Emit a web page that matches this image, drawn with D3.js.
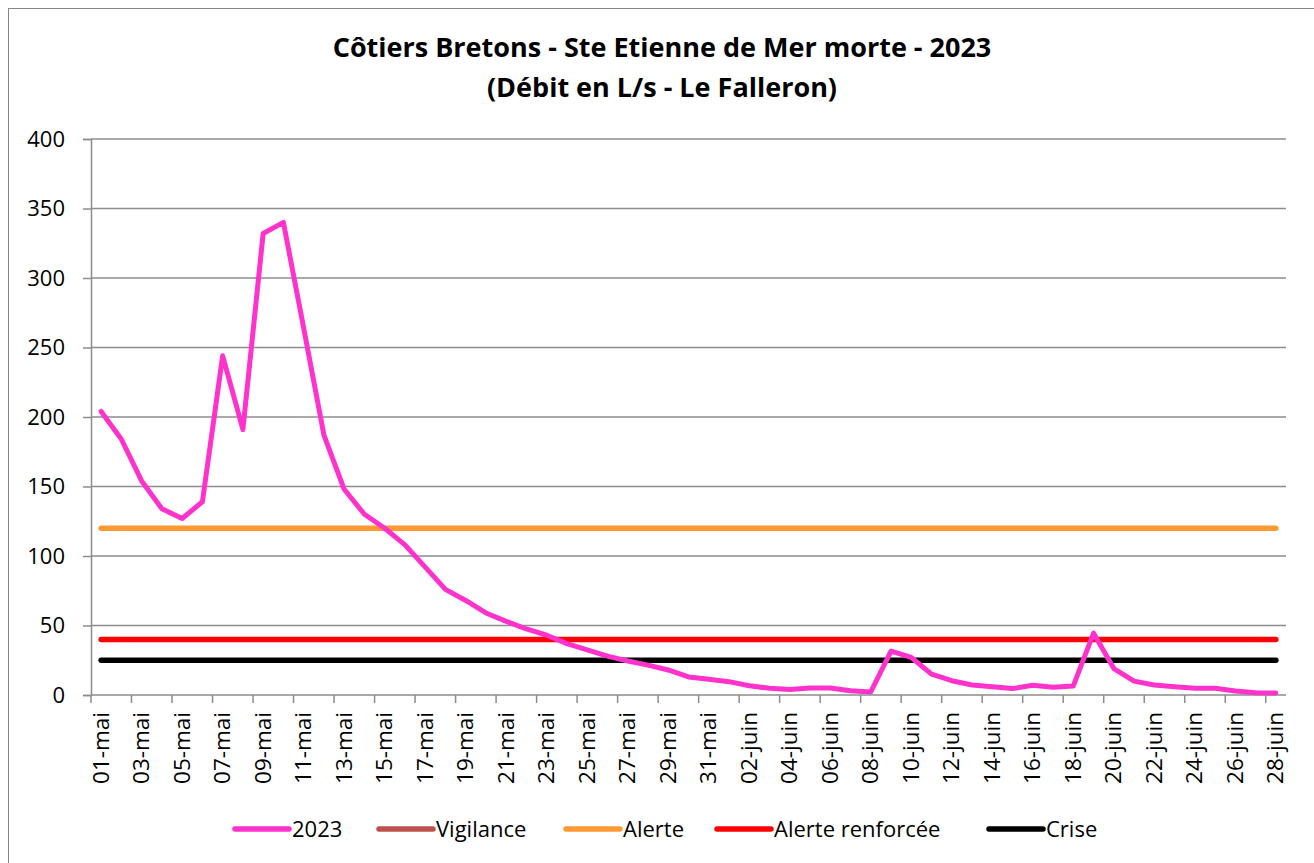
<html>
<head>
<meta charset="utf-8">
<script src="https://d3js.org/d3.v7.min.js"></script>
<style>
  body { margin: 0; background: #fff; }
  text { font-family: "Open Sans", sans-serif; }
</style>
</head>
<body>
<div id="chart"></div>
<script>
// days from 01-mai to 28-juin
var dayLabels = [];
for (var d = 1; d <= 31; d++) dayLabels.push((d < 10 ? "0" : "") + d + "-mai");
for (var d = 1; d <= 28; d++) dayLabels.push((d < 10 ? "0" : "") + d + "-juin");

var debit2023 = [204, 184, 154, 134, 127, 139, 244, 191, 332, 340,
                 264, 187, 148, 130, 120, 108, 92, 76, 68, 59,
                 53, 47.5, 43, 37, 32.5, 28, 24.5, 21.5, 18, 13,
                 11.3, 9.6, 6.7, 4.8, 4, 5, 5, 3, 2.2, 31.5,
                 27, 15, 10.3, 7.2, 6, 4.6, 7, 5.5, 6.5, 44.5,
                 19, 10, 7.2, 6, 4.8, 4.8, 2.9, 1.7, 1.4];

var seuilNames = ["Vigilance", "Alerte", "Alerte renforcée", "Crise"];
var seuilValues = [null, 120, 40, 25];
var seuilColors = ["#C0504D", "#FF9933", "#FF0000", "#000000"];

var yTicks = [0, 50, 100, 150, 200, 250, 300, 350, 400];

var width = 1314, height = 863;
var plotLeft = 91, plotRight = 1286, plotTop = 139, plotBottom = 695;

var svg = d3.select("#chart").append("svg")
    .attr("width", width)
    .attr("height", height);

svg.append("rect")
    .attr("x", 8.5).attr("y", 8.5)
    .attr("width", width + 20).attr("height", height + 20)
    .attr("fill", "white").attr("stroke", "#868686").attr("stroke-width", 1);

var x = d3.scaleBand().domain(dayLabels).range([plotLeft, plotRight]);
var y = d3.scaleLinear().domain([0, 400]).range([plotBottom, plotTop]);
var cx = function(i) { return x(dayLabels[i]) + x.bandwidth() / 2; };

// gridlines
svg.append("g").selectAll("line")
  .data(yTicks.slice(1))
  .enter().append("line")
    .attr("x1", plotLeft).attr("x2", plotRight)
    .attr("y1", function(d) { return y(d); })
    .attr("y2", function(d) { return y(d); })
    .attr("stroke", "#8c8c8c").attr("stroke-width", 1.5);

// y axis
var yAxis = svg.append("g")
    .attr("transform", "translate(" + plotLeft + ",0)")
    .call(d3.axisLeft(y).tickValues(yTicks).tickSize(8).tickPadding(18));
yAxis.selectAll("text").style("font-size", "22px").style("fill", "#000")
    .style("font-family", "'Open Sans', sans-serif");
yAxis.selectAll("line, path").attr("stroke", "#8c8c8c").attr("stroke-width", 1.5);

// x axis : ticks every 2 days on category boundaries
var xg = svg.append("g");
xg.append("line")
    .attr("x1", plotLeft).attr("x2", plotRight)
    .attr("y1", plotBottom).attr("y2", plotBottom)
    .attr("stroke", "#8c8c8c").attr("stroke-width", 1.5);
var tickIdx = d3.range(0, dayLabels.length + 1, 2);
xg.selectAll(".tk").data(tickIdx).enter().append("line")
    .attr("x1", function(i) { return plotLeft + i * x.step(); })
    .attr("x2", function(i) { return plotLeft + i * x.step(); })
    .attr("y1", plotBottom).attr("y2", plotBottom + 8)
    .attr("stroke", "#8c8c8c").attr("stroke-width", 1.5);
xg.selectAll(".lbl").data(dayLabels.filter(function(d, i) { return i % 2 === 0; }))
  .enter().append("text")
    .attr("transform", function(d) { return "translate(" + (x(d) + x.bandwidth() / 2 + 7.5) + "," + (plotBottom + 17) + ") rotate(-90)"; })
    .attr("text-anchor", "end")
    .style("font-size", "22.5px")
    .text(function(d) { return d; });

// threshold lines
seuilNames.forEach(function(name, k) {
  if (seuilValues[k] === null) return;
  svg.append("path")
    .datum(dayLabels.map(function() { return seuilValues[k]; }))
    .attr("fill", "none")
    .attr("stroke", seuilColors[k])
    .attr("stroke-width", 5.5)
    .attr("stroke-linecap", "round")
    .attr("d", d3.line().x(function(d, i) { return cx(i); }).y(function(d) { return y(d); }));
});

// 2023 series
svg.append("path")
    .datum(debit2023)
    .attr("fill", "none")
    .attr("stroke", "#FF33CC")
    .attr("stroke-width", 5)
    .attr("stroke-linejoin", "round")
    .attr("stroke-linecap", "round")
    .attr("d", d3.line().x(function(d, i) { return cx(i); }).y(function(d) { return y(d); }));

// title
svg.append("text").attr("x", 662).attr("y", 57).attr("text-anchor", "middle")
    .style("font-size", "27px").style("font-weight", "bold")
    .text("Côtiers Bretons - Ste Etienne de Mer morte - 2023");
svg.append("text").attr("x", 662).attr("y", 97).attr("text-anchor", "middle")
    .style("font-size", "27px").style("font-weight", "bold")
    .text("(Débit en L/s - Le Falleron)");

// legend
var legendItems = [{name: "2023", color: "#FF33CC", x: 234}];
var legendX = [378, 565, 716, 988];
seuilNames.forEach(function(n, k) { legendItems.push({name: n, color: seuilColors[k], x: legendX[k]}); });
var lg = svg.append("g").selectAll("g").data(legendItems).enter().append("g")
    .attr("transform", function(d) { return "translate(" + d.x + ",829)"; });
lg.append("line").attr("x1", 1).attr("x2", 55).attr("y1", 0).attr("y2", 0)
    .attr("stroke", function(d) { return d.color; })
    .attr("stroke-width", 5.5).attr("stroke-linecap", "round");
lg.append("text").attr("x", 58).attr("y", 8).style("font-size", "22px")
    .text(function(d) { return d.name; });
</script>
</body>
</html>
